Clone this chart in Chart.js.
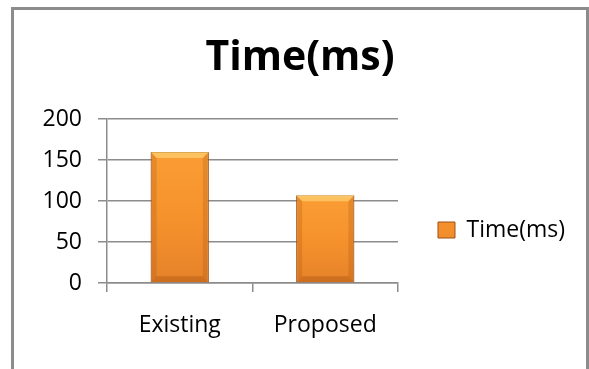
<!DOCTYPE html>
<html>
<head>
<meta charset="utf-8">
<script src="https://cdn.jsdelivr.net/npm/chart.js@4.4.1/dist/chart.umd.min.js"></script>
<style>
    html, body { margin: 0; padding: 0; background: #fff; overflow: hidden; }
    body { width: 589px; height: 369px; position: relative; }
    #frame {
        position: absolute; left: 11px; top: 7px;
        width: 572px; height: 440px;
        border: 3px solid #8c8c8c;
    }
    #timeChart { position: absolute; left: 0; top: 0; }
</style>
</head>
<body>
<div id="frame">
    <canvas id="timeChart" width="572" height="440"></canvas>
</div>
<script>
const categories = ['Existing', 'Proposed'];
const timeValues = [160, 107];
const seriesName = 'Time(ms)';
const yTicks = [0, 50, 100, 150, 200];

const gridGrey = '#8c8c8c';

// orange bar, a bit lighter at top and darker at the base
function barFill(ctx) {
    const chart = ctx.chart;
    const area = chart.chartArea;
    if (!area || ctx.raw === undefined) return '#f7942e';
    const top = chart.scales.y.getPixelForValue(ctx.raw);
    const g = chart.ctx.createLinearGradient(0, top, 0, area.bottom);
    g.addColorStop(0, '#fa9d34');
    g.addColorStop(0.5, '#f6922c');
    g.addColorStop(1, '#e5822a');
    return g;
}

// bevel edges drawn on top of each bar element (uses the bar's own geometry)
const bevelPlugin = {
    id: 'bevel',
    afterDatasetsDraw(chart) {
        const ctx = chart.ctx;
        const meta = chart.getDatasetMeta(0);
        const b = 6;
        meta.data.forEach(bar => {
            const { x, y, base, width } = bar.getProps(['x', 'y', 'base', 'width'], true);
            const l = x - width / 2, r = x + width / 2;
            ctx.save();
            // top
            ctx.fillStyle = 'rgba(255, 215, 120, 0.65)';
            ctx.beginPath();
            ctx.moveTo(l, y); ctx.lineTo(r, y); ctx.lineTo(r - b, y + b); ctx.lineTo(l + b, y + b);
            ctx.closePath(); ctx.fill();
            // sides
            ctx.fillStyle = 'rgba(160, 75, 10, 0.22)';
            ctx.beginPath();
            ctx.moveTo(l, y); ctx.lineTo(l + b, y + b); ctx.lineTo(l + b, base - b); ctx.lineTo(l, base);
            ctx.closePath(); ctx.fill();
            ctx.beginPath();
            ctx.moveTo(r, y); ctx.lineTo(r - b, y + b); ctx.lineTo(r - b, base - b); ctx.lineTo(r, base);
            ctx.closePath(); ctx.fill();
            // bottom
            ctx.fillStyle = 'rgba(150, 65, 5, 0.3)';
            ctx.beginPath();
            ctx.moveTo(l, base); ctx.lineTo(l + b, base - b); ctx.lineTo(r - b, base - b); ctx.lineTo(r, base);
            ctx.closePath(); ctx.fill();
            ctx.restore();
        });
    }
};

const chartData = {
    labels: categories,
    datasets: [{
        label: seriesName,
        data: timeValues,
        backgroundColor: barFill,
        borderColor: '#9c5018',
        borderWidth: 1,
        barPercentage: 0.4,
        categoryPercentage: 1.0
    }]
};

const config = {
    type: 'bar',
    data: chartData,
    plugins: [bevelPlugin],
    options: {
        responsive: false,
        animation: false,
        layout: {
            padding: { left: 11, right: 11, top: 0, bottom: 0 }
        },
        scales: {
            x: {
                grid: {
                    drawOnChartArea: false,
                    tickLength: 9,
                    color: gridGrey,
                    lineWidth: 1.5
                },
                border: { color: gridGrey, width: 1.5 },
                ticks: {
                    color: '#000',
                    padding: 20,
                    font: { family: 'Open Sans', size: 23 }
                },
                afterFit: function (scale) {
                    scale.height = 167;
                }
            },
            y: {
                min: 0,
                max: 200,
                afterBuildTicks: function (scale) {
                    scale.ticks = yTicks.map(v => ({ value: v }));
                },
                grid: {
                    tickLength: 9,
                    color: gridGrey,
                    lineWidth: 1.5
                },
                border: { color: gridGrey, width: 1.5 },
                ticks: {
                    color: '#000',
                    padding: 16,
                    font: { family: 'Open Sans', size: 23 }
                },
                afterFit: function (scale) {
                    scale.width = 82;
                }
            }
        },
        plugins: {
            title: {
                display: true,
                text: 'Time(ms)',
                color: '#000',
                font: { family: 'Open Sans', size: 41, weight: 'bold' },
                padding: { top: 24, bottom: 36 }
            },
            legend: {
                display: true,
                position: 'right',
                maxWidth: 240,
                labels: {
                    color: '#000',
                    boxWidth: 17,
                    boxHeight: 16,
                    padding: 40,
                    font: { family: 'Open Sans', size: 23 }
                }
            },
            tooltip: { enabled: false }
        }
    }
};

const timeCtx = document.getElementById('timeChart').getContext('2d');
const timeChart = new Chart(timeCtx, config);
</script>
</body>
</html>
